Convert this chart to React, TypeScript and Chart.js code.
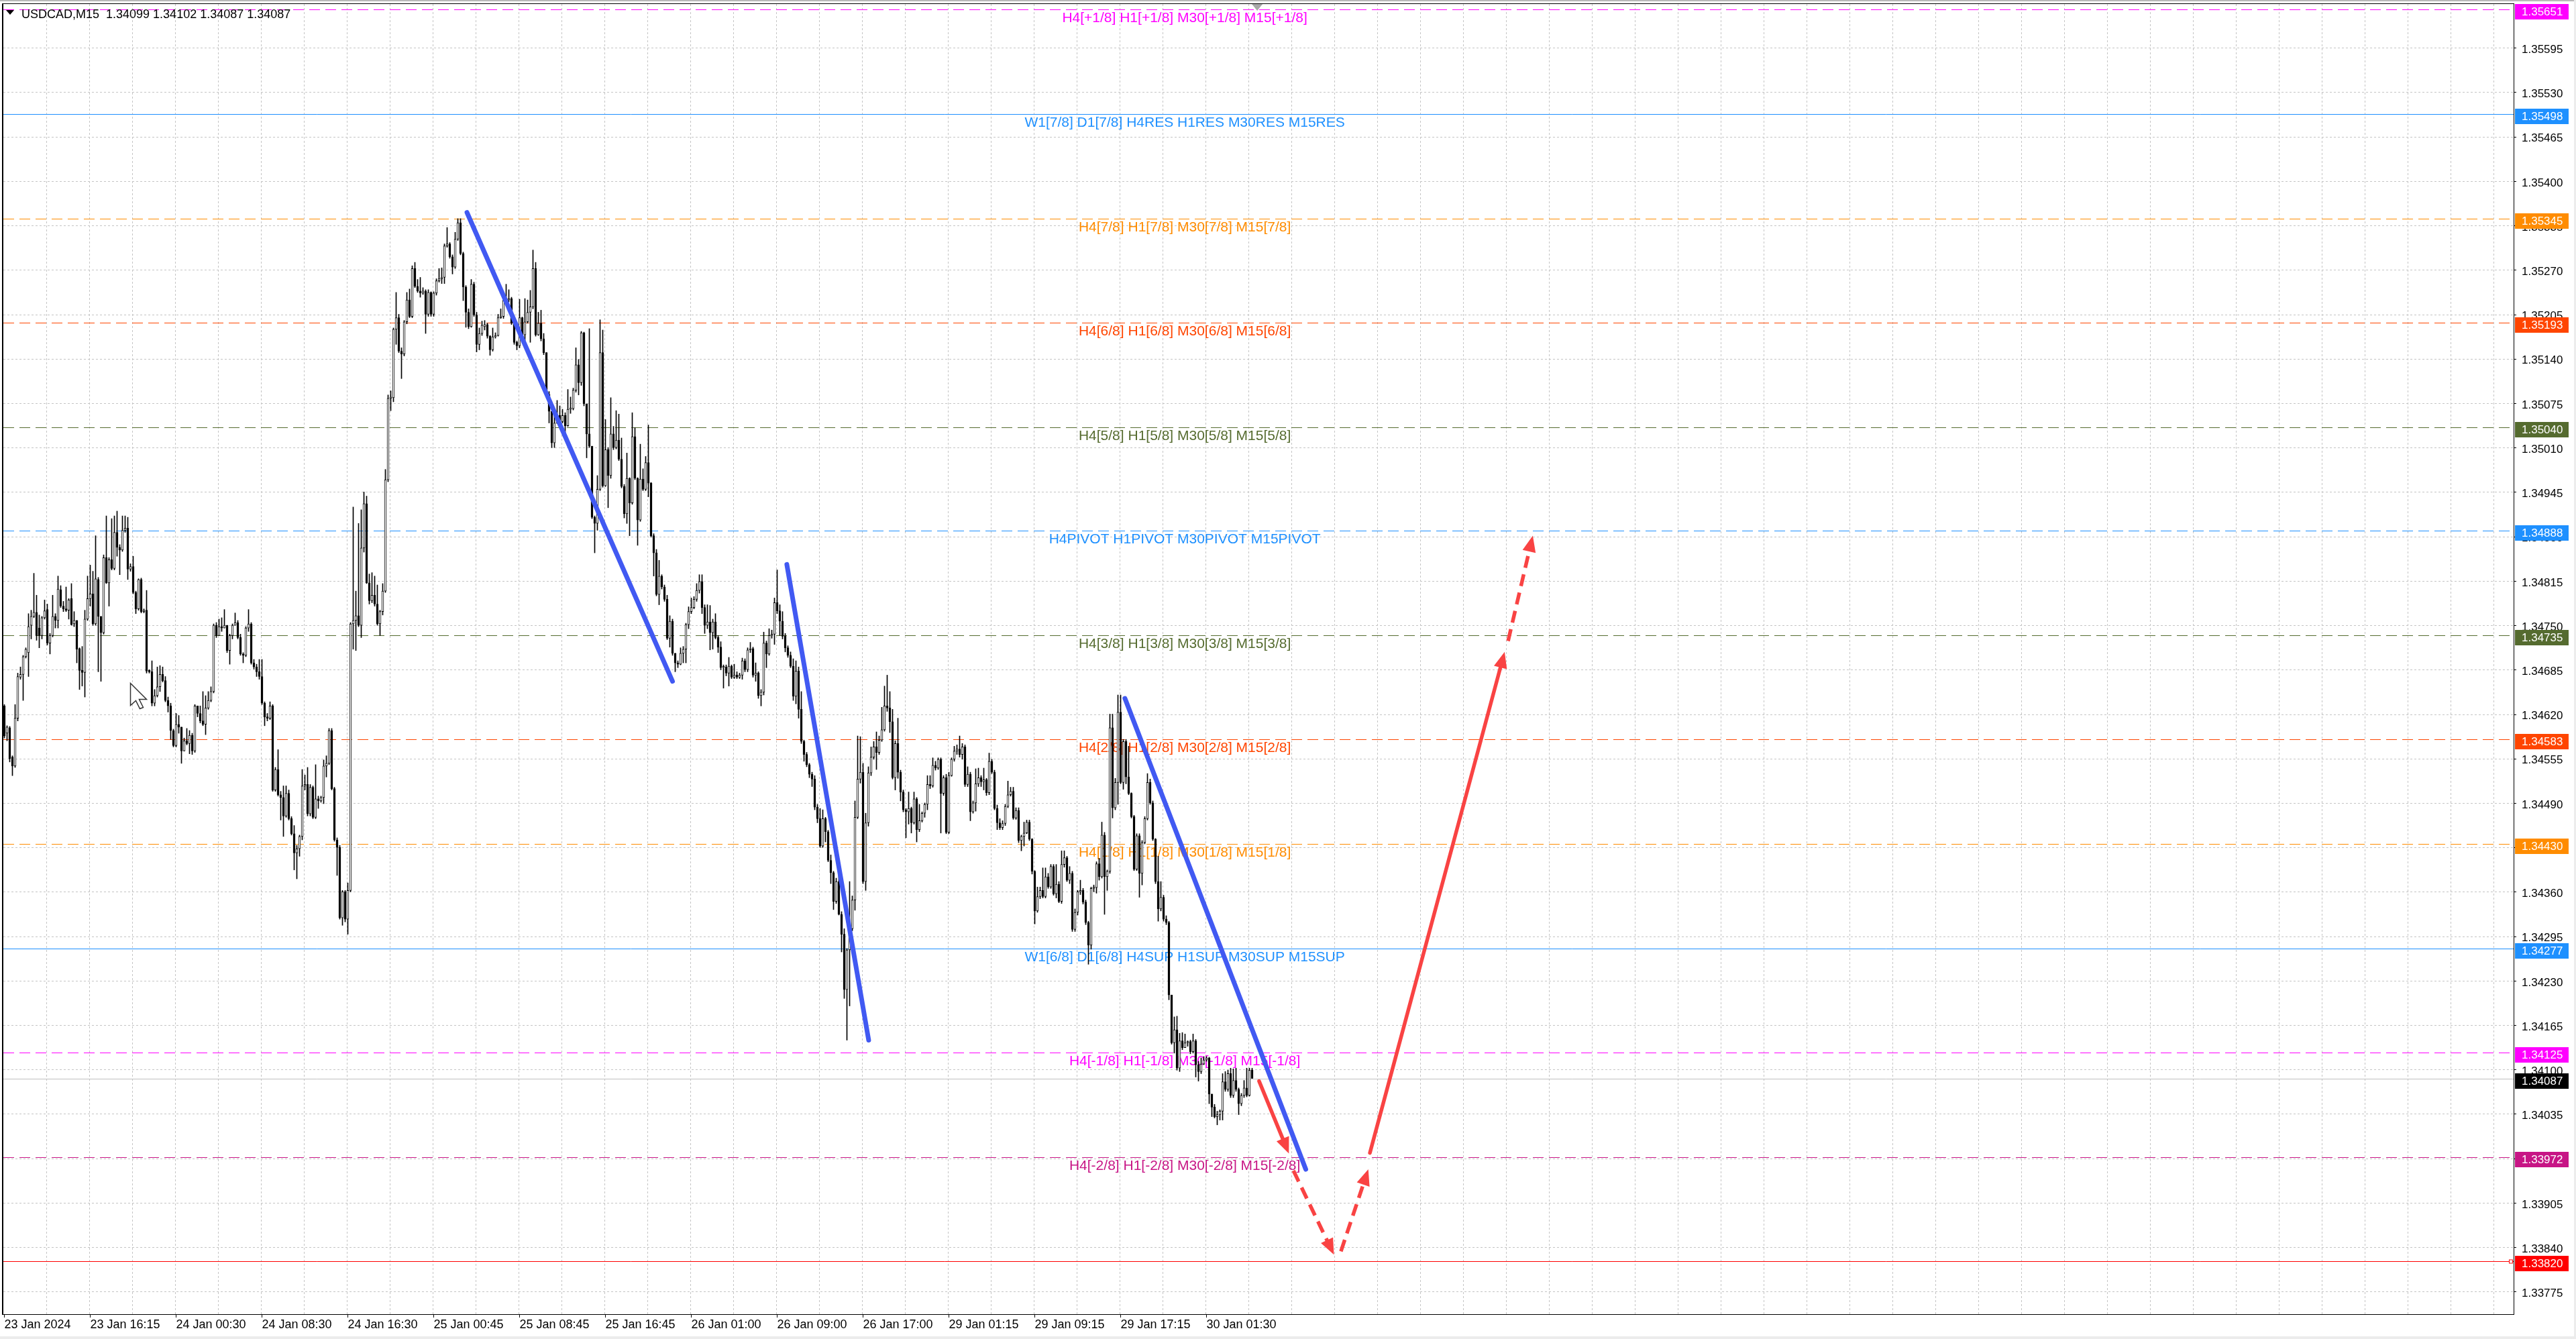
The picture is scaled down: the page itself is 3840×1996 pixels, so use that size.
import React, { useEffect, useRef } from 'react';
import { Chart, registerables } from 'chart.js';

Chart.register(...registerables);

// ---------------- DATA ----------------
const headerText = 'USDCAD,M15  1.34099 1.34102 1.34087 1.34087';

const timeTickLabels = ['23 Jan 2024', '23 Jan 16:15', '24 Jan 00:30', '24 Jan 08:30', '24 Jan 16:30', '25 Jan 00:45', '25 Jan 08:45', '25 Jan 16:45', '26 Jan 01:00', '26 Jan 09:00', '26 Jan 17:00', '29 Jan 01:15', '29 Jan 09:15', '29 Jan 17:15', '30 Jan 01:30'];
const timeTickBars = [0, 32, 64, 96, 128, 160, 192, 224, 256, 288, 320, 352, 384, 416, 448];

const priceTicks = [1.33775, 1.33840, 1.33905, 1.33970, 1.34035, 1.34100, 1.34165, 1.34230, 1.34295, 1.34360, 1.34425, 1.34490, 1.34555, 1.34620, 1.34685, 1.34750, 1.34815, 1.34880, 1.34945, 1.35010, 1.35075, 1.35140, 1.35205, 1.35270, 1.35335, 1.35400, 1.35465, 1.35530, 1.35595];

// candles [open, high, low, close]  (23 Jan - 24 Jan)
const candlesA = [
[1.34632,1.34634,1.34585,1.34588],[1.34592,1.34603,1.34581,1.34601],[1.34600,1.34602,1.34550,1.34555],[1.34557,1.34559,1.34530,1.34544],
[1.34544,1.34634,1.34542,1.34614],[1.34614,1.34680,1.34610,1.34675],[1.34674,1.34689,1.34671,1.34678],[1.34678,1.34706,1.34640,1.34704],
[1.34704,1.34717,1.34702,1.34715],[1.34710,1.34767,1.34675,1.34748],[1.34750,1.34772,1.34730,1.34763],[1.34763,1.34826,1.34761,1.34769],
[1.34769,1.34794,1.34728,1.34735],[1.34746,1.34765,1.34717,1.34735],[1.34735,1.34763,1.34730,1.34761],[1.34761,1.34787,1.34759,1.34771],
[1.34773,1.34781,1.34721,1.34724],[1.34724,1.34738,1.34708,1.34735],[1.34735,1.34794,1.34733,1.34763],[1.34763,1.34767,1.34746,1.34757],
[1.34757,1.34822,1.34746,1.34803],[1.34802,1.34808,1.34776,1.34778],[1.34778,1.34785,1.34770,1.34774],[1.34774,1.34806,1.34770,1.34772],
[1.34772,1.34789,1.34759,1.34787],[1.34789,1.34811,1.34750,1.34751],[1.34752,1.34770,1.34748,1.34757],[1.34757,1.34757,1.34695,1.34715],
[1.34716,1.34717,1.34656,1.34684],[1.34684,1.34719,1.34661,1.34681],[1.34681,1.34772,1.34645,1.34759],[1.34759,1.34822,1.34757,1.34789],
[1.34789,1.34838,1.34778,1.34796],[1.34796,1.34829,1.34750,1.34752],[1.34752,1.34881,1.34750,1.34818],[1.34817,1.34820,1.34682,1.34763],
[1.34763,1.34763,1.34668,1.34739],[1.34739,1.34853,1.34737,1.34849],[1.34849,1.34910,1.34811,1.34812],[1.34812,1.34849,1.34778,1.34846],
[1.34846,1.34906,1.34831,1.34833],[1.34833,1.34910,1.34831,1.34886],[1.34886,1.34917,1.34851,1.34864],[1.34864,1.34868,1.34824,1.34860],
[1.34860,1.34910,1.34858,1.34889],[1.34889,1.34910,1.34886,1.34892],[1.34892,1.34908,1.34817,1.34832],[1.34832,1.34840,1.34829,1.34836],
[1.34836,1.34851,1.34796,1.34798],[1.34798,1.34800,1.34767,1.34774],[1.34774,1.34818,1.34772,1.34817],[1.34817,1.34819,1.34768,1.34770],
[1.34770,1.34774,1.34768,1.34772],[1.34772,1.34801,1.34680,1.34683],[1.34683,1.34685,1.34680,1.34682],[1.34682,1.34698,1.34632,1.34636],
[1.34636,1.34656,1.34632,1.34647],[1.34647,1.34689,1.34645,1.34660],[1.34660,1.34691,1.34653,1.34678],[1.34678,1.34689,1.34667,1.34669],
[1.34669,1.34675,1.34638,1.34640],[1.34640,1.34645,1.34623,1.34632],[1.34632,1.34636,1.34583,1.34596],[1.34596,1.34598,1.34572,1.34574],
[1.34574,1.34621,1.34572,1.34605],[1.34605,1.34618,1.34592,1.34601],[1.34601,1.34601,1.34548,1.34566],[1.34566,1.34585,1.34566,1.34581],
[1.34581,1.34599,1.34575,1.34577],[1.34577,1.34596,1.34562,1.34589],[1.34589,1.34592,1.34561,1.34566],[1.34566,1.34634,1.34564,1.34632],
[1.34632,1.34632,1.34616,1.34621],[1.34621,1.34632,1.34607,1.34610],[1.34610,1.34653,1.34603,1.34605],[1.34605,1.34647,1.34590,1.34629],
[1.34629,1.34653,1.34627,1.34640],[1.34640,1.34660,1.34638,1.34653],[1.34653,1.34752,1.34651,1.34750],[1.34750,1.34754,1.34732,1.34735],
[1.34735,1.34759,1.34735,1.34748],[1.34748,1.34761,1.34741,1.34746],[1.34746,1.34773,1.34746,1.34750],[1.34750,1.34750,1.34710,1.34713],
[1.34713,1.34737,1.34693,1.34735],[1.34735,1.34752,1.34730,1.34750],[1.34750,1.34768,1.34750,1.34754],[1.34754,1.34757,1.34730,1.34732],
[1.34732,1.34737,1.34706,1.34708],[1.34708,1.34710,1.34695,1.34706],[1.34706,1.34748,1.34704,1.34746],[1.34746,1.34773,1.34741,1.34752],
[1.34752,1.34754,1.34693,1.34695],[1.34695,1.34700,1.34686,1.34689],[1.34689,1.34693,1.34675,1.34682],[1.34682,1.34700,1.34671,1.34675],
[1.34675,1.34700,1.34634,1.34636],[1.34636,1.34638,1.34603,1.34616],[1.34616,1.34621,1.34610,1.34614],[1.34614,1.34638,1.34612,1.34632],
[1.34632,1.34634,1.34507,1.34509],[1.34509,1.34542,1.34507,1.34539],[1.34539,1.34568,1.34500,1.34502],[1.34502,1.34507,1.34465,1.34498],
[1.34498,1.34515,1.34441,1.34471],[1.34471,1.34515,1.34469,1.34504],[1.34504,1.34509,1.34465,1.34467],[1.34467,1.34470,1.34443,1.34445],
[1.34445,1.34457,1.34392,1.34417],[1.34417,1.34428,1.34379,1.34423],[1.34423,1.34443,1.34412,1.34441],[1.34441,1.34539,1.34436,1.34515],
[1.34515,1.34531,1.34509,1.34517],[1.34517,1.34542,1.34471,1.34474],[1.34474,1.34517,1.34471,1.34513],[1.34513,1.34515,1.34467,1.34469],
[1.34469,1.34546,1.34467,1.34496],[1.34496,1.34500,1.34482,1.34493],[1.34493,1.34500,1.34491,1.34498],[1.34498,1.34553,1.34489,1.34544],
[1.34544,1.34559,1.34528,1.34548],[1.34548,1.34599,1.34546,1.34596],[1.34596,1.34599,1.34509,1.34511],[1.34511,1.34513,1.34434,1.34436],
[1.34436,1.34439,1.34384,1.34425],[1.34425,1.34428,1.34320,1.34322],[1.34322,1.34362,1.34311,1.34360],[1.34360,1.34362,1.34316,1.34320],
[1.34320,1.34373,1.34298,1.34362],[1.34362,1.34754,1.34360,1.34752],[1.34752,1.34923,1.34715,1.34757],[1.34757,1.34800,1.34713,1.34764],
[1.34764,1.34899,1.34748,1.34750],[1.34750,1.34919,1.34732,1.34863],[1.34863,1.34945,1.34857,1.34928],[1.34928,1.34939,1.34811,1.34812],
[1.34812,1.34825,1.34781,1.34786],[1.34786,1.34827,1.34783,1.34794],[1.34794,1.34822,1.34778,1.34781],[1.34781,1.34809,1.34750,1.34752],
[1.34752,1.34772,1.34735,1.34770],[1.34770,1.34811,1.34765,1.34800],[1.34800,1.34978,1.34798,1.34963],
];

// 25 Jan
const candlesB = [
[1.34963,1.35087,1.34960,1.35082],[1.35082,1.35093,1.35064,1.35083],[1.35083,1.35185,1.35077,1.35183],[1.35183,1.35237,1.35161,1.35200],
[1.35200,1.35205,1.35149,1.35151],[1.35151,1.35156,1.35111,1.35147],[1.35147,1.35196,1.35144,1.35194],[1.35194,1.35237,1.35191,1.35226],
[1.35226,1.35242,1.35200,1.35202],[1.35202,1.35276,1.35200,1.35272],[1.35272,1.35281,1.35244,1.35246],[1.35246,1.35256,1.35237,1.35239],
[1.35239,1.35259,1.35230,1.35236],[1.35236,1.35244,1.35234,1.35239],[1.35239,1.35241,1.35177,1.35205],[1.35205,1.35241,1.35202,1.35237],
[1.35237,1.35238,1.35202,1.35205],[1.35205,1.35238,1.35202,1.35236],[1.35236,1.35257,1.35233,1.35254],[1.35254,1.35272,1.35252,1.35257],
[1.35257,1.35273,1.35250,1.35259],[1.35259,1.35308,1.35250,1.35305],[1.35305,1.35332,1.35303,1.35308],[1.35308,1.35310,1.35287,1.35289],
[1.35289,1.35292,1.35264,1.35274],[1.35274,1.35325,1.35272,1.35315],[1.35315,1.35345,1.35313,1.35339],[1.35339,1.35345,1.35292,1.35294],
[1.35294,1.35296,1.35225,1.35245],[1.35245,1.35247,1.35186,1.35208],[1.35208,1.35213,1.35184,1.35187],[1.35187,1.35256,1.35186,1.35249],
[1.35249,1.35252,1.35202,1.35204],[1.35204,1.35208,1.35150,1.35161],[1.35161,1.35185,1.35153,1.35177],[1.35177,1.35195,1.35174,1.35189],
[1.35187,1.35196,1.35182,1.35190],[1.35190,1.35192,1.35170,1.35173],[1.35173,1.35174,1.35145,1.35153],[1.35153,1.35185,1.35151,1.35172],
[1.35172,1.35178,1.35170,1.35174],[1.35174,1.35205,1.35173,1.35200],[1.35200,1.35213,1.35199,1.35202],[1.35202,1.35232,1.35199,1.35225],
[1.35229,1.35249,1.35223,1.35226],[1.35226,1.35241,1.35223,1.35228],[1.35228,1.35230,1.35190,1.35192],[1.35192,1.35195,1.35161,1.35164],
[1.35164,1.35166,1.35153,1.35159],[1.35159,1.35227,1.35156,1.35200],[1.35200,1.35201,1.35173,1.35175],[1.35175,1.35228,1.35164,1.35194],
[1.35194,1.35226,1.35192,1.35208],[1.35208,1.35240,1.35164,1.35216],[1.35216,1.35299,1.35213,1.35272],[1.35272,1.35281,1.35173,1.35175],
[1.35175,1.35208,1.35174,1.35192],[1.35192,1.35211,1.35166,1.35169],[1.35169,1.35177,1.35146,1.35149],[1.35149,1.35149,1.35086,1.35088],
[1.35088,1.35092,1.35046,1.35063],[1.35063,1.35063,1.35010,1.35017],[1.35017,1.35061,1.35010,1.35046],[1.35046,1.35079,1.35045,1.35057],
[1.35057,1.35071,1.35046,1.35048],[1.35048,1.35066,1.35046,1.35057],[1.35057,1.35061,1.35030,1.35042],[1.35042,1.35095,1.35041,1.35066],
[1.35066,1.35084,1.35060,1.35067],[1.35067,1.35097,1.35065,1.35094],[1.35094,1.35156,1.35091,1.35131],[1.35131,1.35139,1.35087,1.35105],
[1.35105,1.35180,1.35101,1.35178],[1.35178,1.35179,1.35071,1.35074],[1.35074,1.35074,1.34995,1.35030],[1.35030,1.35184,1.35010,1.35012],
[1.35012,1.35012,1.34906,1.34908],[1.34908,1.34910,1.34856,1.34899],[1.34899,1.34969,1.34889,1.34949],[1.34949,1.35197,1.34947,1.35149],
[1.35149,1.35182,1.34952,1.34954],[1.34954,1.35051,1.34953,1.35007],[1.35007,1.35010,1.34922,1.34969],[1.34969,1.35083,1.34965,1.35030],
[1.35030,1.35041,1.35007,1.35010],[1.35010,1.35064,1.35008,1.35021],[1.35021,1.35059,1.34991,1.34993],[1.34993,1.35024,1.34951,1.34953],
[1.34953,1.34956,1.34907,1.34913],[1.34913,1.35002,1.34899,1.34965],[1.34965,1.34966,1.34881,1.34929],[1.34929,1.35061,1.34927,1.35026],
[1.35026,1.35039,1.34963,1.34965],[1.34965,1.34966,1.34867,1.34904],[1.34904,1.35015,1.34902,1.34964],[1.34964,1.34979,1.34947,1.34949],
[1.34949,1.34997,1.34947,1.34988],[1.34988,1.35043,1.34938,1.34958],[1.34958,1.34959,1.34879,1.34881],[1.34881,1.34884,1.34822,1.34856],
];

// 26 Jan - 29 Jan
const candlesC = [
[1.34856,1.34861,1.34793,1.34795],[1.34795,1.34845,1.34780,1.34822],[1.34822,1.34824,1.34803,1.34806],[1.34806,1.34809,1.34785,1.34788],
[1.34788,1.34794,1.34729,1.34731],[1.34731,1.34764,1.34718,1.34756],[1.34756,1.34759,1.34706,1.34709],[1.34709,1.34709,1.34682,1.34695],
[1.34695,1.34698,1.34688,1.34693],[1.34693,1.34717,1.34692,1.34709],[1.34709,1.34719,1.34695,1.34715],[1.34715,1.34753,1.34695,1.34751],
[1.34751,1.34777,1.34745,1.34770],[1.34770,1.34790,1.34767,1.34776],[1.34776,1.34792,1.34774,1.34788],[1.34788,1.34811,1.34785,1.34801],
[1.34801,1.34824,1.34797,1.34814],[1.34814,1.34824,1.34767,1.34776],[1.34776,1.34780,1.34738,1.34750],[1.34750,1.34780,1.34745,1.34755],
[1.34755,1.34779,1.34714,1.34739],[1.34739,1.34759,1.34715,1.34755],[1.34755,1.34767,1.34730,1.34732],[1.34732,1.34735,1.34710,1.34718],
[1.34718,1.34726,1.34685,1.34688],[1.34688,1.34692,1.34658,1.34689],[1.34689,1.34692,1.34676,1.34680],[1.34680,1.34703,1.34661,1.34690],
[1.34690,1.34692,1.34672,1.34674],[1.34674,1.34693,1.34672,1.34677],[1.34677,1.34682,1.34672,1.34674],[1.34674,1.34680,1.34672,1.34677],
[1.34677,1.34702,1.34671,1.34698],[1.34698,1.34701,1.34682,1.34685],[1.34685,1.34717,1.34682,1.34714],[1.34714,1.34725,1.34710,1.34716],
[1.34716,1.34718,1.34674,1.34677],[1.34677,1.34695,1.34668,1.34680],[1.34680,1.34682,1.34643,1.34647],[1.34647,1.34656,1.34632,1.34652],
[1.34652,1.34740,1.34648,1.34724],[1.34724,1.34727,1.34688,1.34708],[1.34708,1.34745,1.34706,1.34735],[1.34735,1.34743,1.34731,1.34737],
[1.34737,1.34790,1.34722,1.34783],[1.34783,1.34831,1.34767,1.34771],[1.34771,1.34780,1.34735,1.34756],[1.34756,1.34770,1.34730,1.34734],
[1.34734,1.34738,1.34711,1.34717],[1.34717,1.34720,1.34703,1.34706],[1.34706,1.34711,1.34688,1.34690],[1.34690,1.34701,1.34640,1.34646],
[1.34646,1.34698,1.34635,1.34683],[1.34683,1.34689,1.34614,1.34627],[1.34627,1.34653,1.34577,1.34580],[1.34580,1.34582,1.34551,1.34561],
[1.34561,1.34564,1.34543,1.34546],[1.34546,1.34548,1.34527,1.34532],[1.34532,1.34535,1.34514,1.34525],[1.34525,1.34530,1.34480,1.34484],
[1.34484,1.34488,1.34461,1.34467],[1.34467,1.34482,1.34425,1.34427],[1.34427,1.34480,1.34425,1.34467],[1.34467,1.34469,1.34433,1.34448],
[1.34448,1.34450,1.34404,1.34406],[1.34406,1.34414,1.34372,1.34388],[1.34388,1.34390,1.34334,1.34346],[1.34346,1.34380,1.34343,1.34375],
[1.34375,1.34408,1.34326,1.34327],[1.34327,1.34331,1.34272,1.34298],[1.34298,1.34306,1.34204,1.34217],[1.34217,1.34277,1.34143,1.34275],
[1.34275,1.34375,1.34193,1.34306],[1.34306,1.34354,1.34303,1.34348],[1.34348,1.34493,1.34333,1.34469],[1.34469,1.34588,1.34467,1.34525],
[1.34525,1.34587,1.34519,1.34535],[1.34535,1.34548,1.34372,1.34375],[1.34375,1.34475,1.34362,1.34461],[1.34461,1.34543,1.34456,1.34534],
[1.34534,1.34572,1.34530,1.34557],[1.34557,1.34580,1.34554,1.34572],[1.34572,1.34594,1.34539,1.34564],[1.34564,1.34588,1.34561,1.34582],
[1.34582,1.34630,1.34580,1.34597],[1.34597,1.34661,1.34595,1.34632],[1.34632,1.34677,1.34624,1.34629],[1.34629,1.34653,1.34593,1.34609],
[1.34609,1.34627,1.34525,1.34527],[1.34527,1.34581,1.34509,1.34577],[1.34577,1.34614,1.34526,1.34535],[1.34535,1.34538,1.34493,1.34506],
[1.34506,1.34509,1.34477,1.34480],[1.34480,1.34482,1.34439,1.34477],[1.34477,1.34506,1.34459,1.34482],[1.34482,1.34484,1.34446,1.34461],
[1.34461,1.34506,1.34459,1.34496],[1.34496,1.34498,1.34433,1.34451],[1.34451,1.34488,1.34448,1.34464],[1.34464,1.34477,1.34462,1.34475],
[1.34475,1.34490,1.34469,1.34488],[1.34488,1.34530,1.34480,1.34517],[1.34517,1.34530,1.34511,1.34515],[1.34515,1.34556,1.34513,1.34545],
[1.34545,1.34551,1.34538,1.34541],[1.34541,1.34556,1.34539,1.34554],[1.34554,1.34556,1.34446,1.34504],[1.34504,1.34530,1.34501,1.34527],
[1.34527,1.34532,1.34445,1.34447],[1.34447,1.34535,1.34445,1.34530],[1.34530,1.34556,1.34529,1.34554],[1.34554,1.34573,1.34551,1.34566],
[1.34566,1.34575,1.34561,1.34569],[1.34569,1.34588,1.34557,1.34561],[1.34561,1.34577,1.34554,1.34572],[1.34572,1.34575,1.34514,1.34517],
[1.34517,1.34543,1.34514,1.34532],[1.34532,1.34535,1.34464,1.34477],[1.34477,1.34493,1.34475,1.34490],[1.34490,1.34540,1.34478,1.34518],
[1.34518,1.34541,1.34514,1.34527],[1.34527,1.34530,1.34514,1.34521],[1.34521,1.34541,1.34509,1.34524],[1.34524,1.34526,1.34501,1.34505],
[1.34505,1.34563,1.34502,1.34551],[1.34551,1.34554,1.34533,1.34535],[1.34535,1.34538,1.34480,1.34482],[1.34482,1.34487,1.34451,1.34461],
[1.34461,1.34467,1.34451,1.34454],[1.34454,1.34464,1.34451,1.34460],
];

// 29 Jan - 30 Jan
const candlesD = [
[1.34460,1.34488,1.34457,1.34485],[1.34485,1.34522,1.34483,1.34502],[1.34502,1.34513,1.34500,1.34507],[1.34507,1.34513,1.34466,1.34468],
[1.34468,1.34483,1.34466,1.34479],[1.34479,1.34483,1.34432,1.34435],[1.34435,1.34443,1.34420,1.34441],[1.34441,1.34462,1.34427,1.34446],
[1.34446,1.34465,1.34445,1.34462],[1.34462,1.34465,1.34435,1.34437],[1.34437,1.34438,1.34386,1.34390],[1.34390,1.34391,1.34313,1.34332],
[1.34332,1.34367,1.34330,1.34353],[1.34353,1.34367,1.34350,1.34362],[1.34362,1.34395,1.34351,1.34353],[1.34353,1.34395,1.34351,1.34382],
[1.34382,1.34387,1.34365,1.34367],[1.34367,1.34400,1.34365,1.34397],[1.34397,1.34400,1.34355,1.34357],[1.34357,1.34400,1.34351,1.34371],
[1.34371,1.34375,1.34344,1.34346],[1.34346,1.34420,1.34343,1.34400],[1.34400,1.34420,1.34396,1.34410],[1.34410,1.34412,1.34375,1.34377],
[1.34377,1.34397,1.34372,1.34387],[1.34387,1.34390,1.34302,1.34305],[1.34305,1.34335,1.34302,1.34330],[1.34330,1.34362,1.34326,1.34360],
[1.34360,1.34377,1.34356,1.34362],[1.34362,1.34365,1.34342,1.34345],[1.34345,1.34348,1.34312,1.34315],[1.34315,1.34317,1.34254,1.34282],
[1.34282,1.34367,1.34276,1.34365],[1.34365,1.34370,1.34360,1.34366],[1.34366,1.34404,1.34358,1.34401],[1.34401,1.34409,1.34377,1.34382],
[1.34382,1.34462,1.34380,1.34443],[1.34443,1.34447,1.34327,1.34382],[1.34382,1.34392,1.34362,1.34390],[1.34390,1.34620,1.34387,1.34600],
[1.34600,1.34620,1.34468,1.34483],[1.34483,1.34526,1.34480,1.34520],[1.34520,1.34648,1.34488,1.34623],[1.34623,1.34648,1.34518,1.34520],
[1.34520,1.34583,1.34510,1.34580],[1.34580,1.34583,1.34518,1.34528],[1.34528,1.34573,1.34502,1.34504],[1.34504,1.34505,1.34468,1.34470],
[1.34470,1.34472,1.34391,1.34393],[1.34393,1.34445,1.34391,1.34442],[1.34442,1.34445,1.34352,1.34387],[1.34387,1.34435,1.34370,1.34432],
[1.34432,1.34470,1.34430,1.34467],[1.34467,1.34533,1.34465,1.34520],[1.34520,1.34525,1.34488,1.34490],[1.34490,1.34493,1.34435,1.34437],
[1.34437,1.34438,1.34372,1.34375],[1.34375,1.34412,1.34317,1.34335],[1.34335,1.34375,1.34332,1.34352],[1.34352,1.34355,1.34317,1.34320],
[1.34320,1.34325,1.34312,1.34315],[1.34315,1.34317,1.34202,1.34209],[1.34209,1.34209,1.34137,1.34139],[1.34139,1.34177,1.34124,1.34158],
[1.34158,1.34178,1.34099,1.34102],[1.34102,1.34153,1.34097,1.34142],[1.34142,1.34154,1.34129,1.34132],[1.34132,1.34152,1.34132,1.34139],
[1.34139,1.34142,1.34134,1.34141],[1.34141,1.34143,1.34123,1.34126],[1.34126,1.34152,1.34124,1.34142],[1.34142,1.34144,1.34089,1.34107],
[1.34107,1.34112,1.34083,1.34097],[1.34097,1.34117,1.34094,1.34108],[1.34108,1.34119,1.34107,1.34114],[1.34114,1.34119,1.34112,1.34117],
[1.34117,1.34118,1.34050,1.34064],[1.34064,1.34064,1.34031,1.34045],[1.34045,1.34049,1.34029,1.34031],[1.34031,1.34039,1.34019,1.34034],
[1.34034,1.34041,1.34026,1.34039],[1.34039,1.34094,1.34026,1.34082],[1.34082,1.34097,1.34068,1.34071],[1.34071,1.34099,1.34068,1.34094],
[1.34094,1.34102,1.34059,1.34062],[1.34062,1.34101,1.34059,1.34084],[1.34084,1.34102,1.34068,1.34071],[1.34071,1.34073,1.34034,1.34050],
[1.34050,1.34065,1.34047,1.34062],[1.34062,1.34084,1.34059,1.34073],[1.34073,1.34102,1.34060,1.34062],[1.34062,1.34102,1.34061,1.34099],
[1.34099,1.34102,1.34087,1.34087],
];

const candles = [...candlesA, ...candlesB, ...candlesC, ...candlesD];

// Murrey-math style levels
const levelPrices = [1.35651, 1.35498, 1.35345, 1.35193, 1.35040, 1.34888, 1.34735, 1.34583, 1.34430, 1.34277, 1.34125, 1.33972, 1.33820];
const levelTexts = [
  'H4[+1/8] H1[+1/8] M30[+1/8] M15[+1/8]',
  'W1[7/8] D1[7/8] H4RES H1RES M30RES M15RES',
  'H4[7/8] H1[7/8] M30[7/8] M15[7/8]',
  'H4[6/8] H1[6/8] M30[6/8] M15[6/8]',
  'H4[5/8] H1[5/8] M30[5/8] M15[5/8]',
  'H4PIVOT H1PIVOT M30PIVOT M15PIVOT',
  'H4[3/8] H1[3/8] M30[3/8] M15[3/8]',
  'H4[2/8] H1[2/8] M30[2/8] M15[2/8]',
  'H4[1/8] H1[1/8] M30[1/8] M15[1/8]',
  'W1[6/8] D1[6/8] H4SUP H1SUP M30SUP M15SUP',
  'H4[-1/8] H1[-1/8] M30[-1/8] M15[-1/8]',
  'H4[-2/8] H1[-2/8] M30[-2/8] M15[-2/8]',
  '',
];
const levelTextBar = 439.9;

// trend lines [barFrom, priceFrom, barTo, priceTo]
const trendLines = [
  [172.4, 1.35354, 249.0, 1.34668],
  [291.6, 1.34839, 322.1, 1.34143],
  [417.6, 1.34643, 485.0, 1.33954],
];
// forecast arrows [barFrom, priceFrom, barTo, priceTo]
const forecastArrows = [
  [467.6, 1.34083, 478.7, 1.33977],
  [480.4, 1.33952, 495.5, 1.33829],
  [498.1, 1.33834, 508.3, 1.33954],
  [508.9, 1.33978, 559.1, 1.34711],
  [560.4, 1.34727, 569.6, 1.34881],
];
// mouse pointer left on the screenshot [bar, price]
const pointerAt = [46.9, 1.34666];

// ---------------- STYLES ----------------
const levelColors = ['#FF00FF', '#1E90FF', '#FF8C00', '#FF4500', '#556B2F', '#1E90FF', '#556B2F', '#FF4500', '#FF8C00', '#1E90FF', '#FF00FF', '#C71585', '#FF0000'];
const levelDashed = [true, false, true, true, true, true, true, true, true, false, true, true, false];
const arrowDashed = [false, true, true, false, true];
const TREND_COLOR = '#4159F2';
const ARROW_COLOR = '#F94343';
const GRID_COLOR = '#C4C4C4';
const AXIS_FONT = '17px "Liberation Sans", Arial, sans-serif';
const TEXT_FONT = '21px "Liberation Sans", Arial, sans-serif';
const TOTAL_SLOTS = 935.5;

const crisp = (v: number) => Math.round(v) + 0.5;

function drawArrow(ctx: CanvasRenderingContext2D, x1: number, y1: number, x2: number, y2: number, dashed: boolean) {
  const ang = Math.atan2(y2 - y1, x2 - x1);
  const hl = 24, hw = 10;
  const bx = x2 - Math.cos(ang) * hl;
  const by = y2 - Math.sin(ang) * hl;
  ctx.setLineDash(dashed ? [18, 10] : []);
  ctx.lineCap = dashed ? 'butt' : 'round';
  ctx.beginPath();
  ctx.moveTo(x1, y1);
  ctx.lineTo(bx + Math.cos(ang) * 4, by + Math.sin(ang) * 4);
  ctx.stroke();
  ctx.setLineDash([]);
  ctx.beginPath();
  ctx.moveTo(x2, y2);
  ctx.lineTo(bx - Math.sin(ang) * hw, by + Math.cos(ang) * hw);
  ctx.lineTo(bx + Math.sin(ang) * hw, by - Math.cos(ang) * hw);
  ctx.closePath();
  ctx.fill();
}

const zeroPadding = (s: any) => {
  s.paddingTop = 0;
  s.paddingBottom = 0;
  s.paddingLeft = 0;
  s.paddingRight = 0;
};

const mt4Plugin = {
  id: 'mt4Plugin',
  beforeDraw(chart: any) {
    const { ctx, width, height } = chart;
    ctx.save();
    ctx.fillStyle = '#ffffff';
    ctx.fillRect(0, 0, width, height);
    ctx.restore();
  },
  beforeDatasetsDraw(chart: any) {
    const { ctx, chartArea: a, scales } = chart;
    const xs = scales.x, ys = scales.y;
    ctx.save();
    ctx.beginPath();
    ctx.rect(a.left, a.top, a.right - a.left, a.bottom - a.top);
    ctx.clip();
    // grid
    ctx.lineWidth = 1;
    ctx.strokeStyle = GRID_COLOR;
    ctx.setLineDash([3, 3]);
    ctx.beginPath();
    for (const t of priceTicks) {
      const y = crisp(ys.getPixelForValue(t));
      ctx.moveTo(a.left, y); ctx.lineTo(a.right, y);
    }
    for (let k = 1; k < 200; k++) {
      const x = xs.getPixelForValue(16 * k - 0.5);
      if (x > a.right) break;
      const xx = crisp(x);
      ctx.moveTo(xx, a.top); ctx.lineTo(xx, a.bottom);
    }
    ctx.stroke();
    // level lines
    levelPrices.forEach((p, i) => {
      const y = crisp(ys.getPixelForValue(p));
      ctx.strokeStyle = levelColors[i];
      ctx.setLineDash(levelDashed[i] ? [16, 8] : []);
      ctx.beginPath(); ctx.moveTo(a.left, y); ctx.lineTo(a.right, y); ctx.stroke();
    });
    // current price line
    const last = candles[candles.length - 1][3];
    const cy = crisp(ys.getPixelForValue(last));
    ctx.setLineDash([]);
    ctx.strokeStyle = '#C0C0C0';
    ctx.beginPath(); ctx.moveTo(a.left, cy); ctx.lineTo(a.right, cy); ctx.stroke();
    // level texts
    ctx.font = TEXT_FONT;
    ctx.textAlign = 'center';
    ctx.textBaseline = 'alphabetic';
    const tx = xs.getPixelForValue(levelTextBar);
    levelTexts.forEach((t, i) => {
      if (!t) return;
      const y = ys.getPixelForValue(levelPrices[i]);
      ctx.fillStyle = levelColors[i];
      ctx.fillText(t, tx, y + 19);
    });
    ctx.restore();
  },
  afterDatasetsDraw(chart: any) {
    const { ctx, chartArea: a, scales } = chart;
    const xs = scales.x, ys = scales.y;
    ctx.save();
    ctx.beginPath();
    ctx.rect(a.left, a.top, a.right - a.left, a.bottom - a.top);
    ctx.clip();
    ctx.strokeStyle = TREND_COLOR;
    ctx.lineWidth = 7;
    ctx.lineCap = 'round';
    for (const [b1, p1, b2, p2] of trendLines) {
      ctx.beginPath();
      ctx.moveTo(xs.getPixelForValue(b1), ys.getPixelForValue(p1));
      ctx.lineTo(xs.getPixelForValue(b2), ys.getPixelForValue(p2));
      ctx.stroke();
    }
    ctx.strokeStyle = ARROW_COLOR;
    ctx.fillStyle = ARROW_COLOR;
    ctx.lineWidth = 5.5;
    forecastArrows.forEach(([b1, p1, b2, p2], i) => {
      drawArrow(ctx, xs.getPixelForValue(b1), ys.getPixelForValue(p1), xs.getPixelForValue(b2), ys.getPixelForValue(p2), arrowDashed[i]);
    });
    // mouse pointer
    const px0 = Math.round(xs.getPixelForValue(pointerAt[0])) + 0.5;
    const py0 = Math.round(ys.getPixelForValue(pointerAt[1])) + 0.5;
    const shape = [[0, 0], [0, 33], [8, 26], [14, 38], [19, 36], [13, 24], [24, 24]];
    ctx.beginPath();
    shape.forEach(([dx, dy], k) => (k ? ctx.lineTo(px0 + dx, py0 + dy) : ctx.moveTo(px0 + dx, py0 + dy)));
    ctx.closePath();
    ctx.fillStyle = '#ffffff';
    ctx.fill();
    ctx.lineWidth = 1.5;
    ctx.strokeStyle = '#333333';
    ctx.stroke();
    ctx.restore();
  },
  afterDraw(chart: any) {
    const { ctx, chartArea: a, scales, width, height } = chart;
    const xs = scales.x, ys = scales.y;
    ctx.save();
    // window edges
    ctx.fillStyle = '#B9B9B9';
    ctx.fillRect(0, 0, width, 2);
    ctx.fillStyle = '#ECECEC';
    ctx.fillRect(0, height - 4, width, 4);
    ctx.fillRect(width - 3, 0, 3, height);
    // frame
    ctx.strokeStyle = '#000000';
    ctx.lineWidth = 1;
    ctx.setLineDash([]);
    ctx.strokeRect(a.left - 0.5, a.top - 0.5, a.right - a.left + 1, a.bottom - a.top + 1);
    ctx.fillStyle = '#000';
    ctx.fillRect(a.left - 2, a.top - 1, 2, a.bottom - a.top + 2);
    // tick marks
    ctx.beginPath();
    for (const t of priceTicks) {
      const y = crisp(ys.getPixelForValue(t));
      ctx.moveTo(a.right, y); ctx.lineTo(a.right + 4, y);
    }
    for (const b of timeTickBars) {
      const x = crisp(xs.getPixelForValue(b) - 1);
      ctx.moveTo(x, a.bottom); ctx.lineTo(x, a.bottom + 5);
    }
    ctx.stroke();
    // axis price boxes
    ctx.font = AXIS_FONT;
    ctx.textAlign = 'left';
    ctx.textBaseline = 'middle';
    const box = (p: number, color: string) => {
      const y = Math.round(ys.getPixelForValue(p)) + 3;
      ctx.fillStyle = color;
      ctx.fillRect(a.right + 2, y - 11, 80, 23);
      ctx.fillStyle = '#ffffff';
      ctx.fillText(p.toFixed(5), a.right + 12, y + 1.5);
    };
    levelPrices.forEach((p, i) => box(p, levelColors[i]));
    box(candles[candles.length - 1][3], '#000000');
    // red line end marker
    const ry = crisp(ys.getPixelForValue(levelPrices[levelPrices.length - 1]));
    ctx.strokeStyle = '#FF0000';
    ctx.fillStyle = '#ffffff';
    ctx.fillRect(a.right - 7, ry - 3, 6, 6);
    ctx.strokeRect(a.right - 6.5, ry - 2.5, 5, 5);
    // shift marker
    const sx = xs.getPixelForValue(466.9);
    ctx.fillStyle = '#A8A8A8';
    ctx.beginPath();
    ctx.moveTo(sx - 8, a.top); ctx.lineTo(sx + 8, a.top); ctx.lineTo(sx, a.top + 10); ctx.closePath(); ctx.fill();
    // header
    ctx.fillStyle = '#000';
    ctx.beginPath();
    ctx.moveTo(9, 15); ctx.lineTo(21, 15); ctx.lineTo(15, 22); ctx.closePath(); ctx.fill();
    ctx.font = '18px "Liberation Sans", Arial, sans-serif';
    ctx.textBaseline = 'alphabetic';
    ctx.fillText(headerText, 32, 27);
    ctx.restore();
  },
};

export default function App() {
  const canvasRef = useRef<HTMLCanvasElement>(null);

  useEffect(() => {
    document.body.style.margin = '0';
    document.body.style.overflow = 'hidden';
    const canvas = canvasRef.current;
    if (!canvas) return;

    const bodies = candles.map(([o, , , c], i) => ({ x: i, y: [Math.min(o, c), Math.max(o, c)] }));
    const wicks = candles.map(([o, h, l, c], i) => ({ x: i, y: [Math.min(l, o, c), Math.max(h, o, c)] }));
    const bodyColors = candles.map(([o, , , c]) => (c >= o ? '#ffffff' : '#000000'));

    const chart = new Chart(canvas, {
      type: 'bar',
      data: {
        datasets: [
          {
            label: 'body',
            data: bodies as any,
            backgroundColor: bodyColors,
            borderColor: '#000000',
            borderWidth: 1,
            borderSkipped: false,
            barThickness: 3,
            minBarLength: 2,
            grouped: false,
            order: 0,
          },
          {
            label: 'wick',
            data: wicks as any,
            backgroundColor: '#000000',
            borderWidth: 0,
            barThickness: 1,
            grouped: false,
            order: 1,
          },
        ],
      },
      options: {
        animation: false,
        responsive: true,
        maintainAspectRatio: false,
        devicePixelRatio: 1,
        events: [],
        layout: { padding: { left: 5, top: 6, right: 0, bottom: 0 }, autoPadding: false },
        plugins: { legend: { display: false }, tooltip: { enabled: false }, title: { display: false } },
        scales: {
          x: {
            type: 'linear',
            position: 'bottom',
            offset: false,
            min: -0.375,
            max: TOTAL_SLOTS - 0.375,
            grid: { display: false, drawTicks: false },
            border: { display: false },
            afterBuildTicks: (s: any) => { s.ticks = timeTickBars.map((v) => ({ value: v })); },
            afterFit: (s: any) => { s.height = 37; zeroPadding(s); },
            ticks: {
              autoSkip: false,
              maxRotation: 0,
              minRotation: 0,
              align: 'start',
              padding: 5,
              color: '#000000',
              font: { family: '"Liberation Sans", Arial, sans-serif', size: 18 },
              callback: (_v: any, i: number) => timeTickLabels[i] ?? '',
            },
          },
          y: {
            type: 'linear',
            position: 'right',
            min: 1.33742,
            max: 1.35659,
            grid: { display: false, drawTicks: false },
            border: { display: false },
            afterBuildTicks: (s: any) => { s.ticks = priceTicks.map((v) => ({ value: v })); },
            afterFit: (s: any) => { s.width = 93; zeroPadding(s); },
            ticks: {
              autoSkip: false,
              padding: 12,
              labelOffset: 3,
              color: '#000000',
              font: { family: '"Liberation Sans", Arial, sans-serif', size: 17 },
              callback: (v: any) => Number(v).toFixed(5),
            },
          },
        },
      } as any,
      plugins: [mt4Plugin],
    });

    return () => chart.destroy();
  }, []);

  return (
    <div style={{ position: 'absolute', left: 0, top: 0, width: 3840, height: 1996 }}>
      <canvas ref={canvasRef} />
    </div>
  );
}
